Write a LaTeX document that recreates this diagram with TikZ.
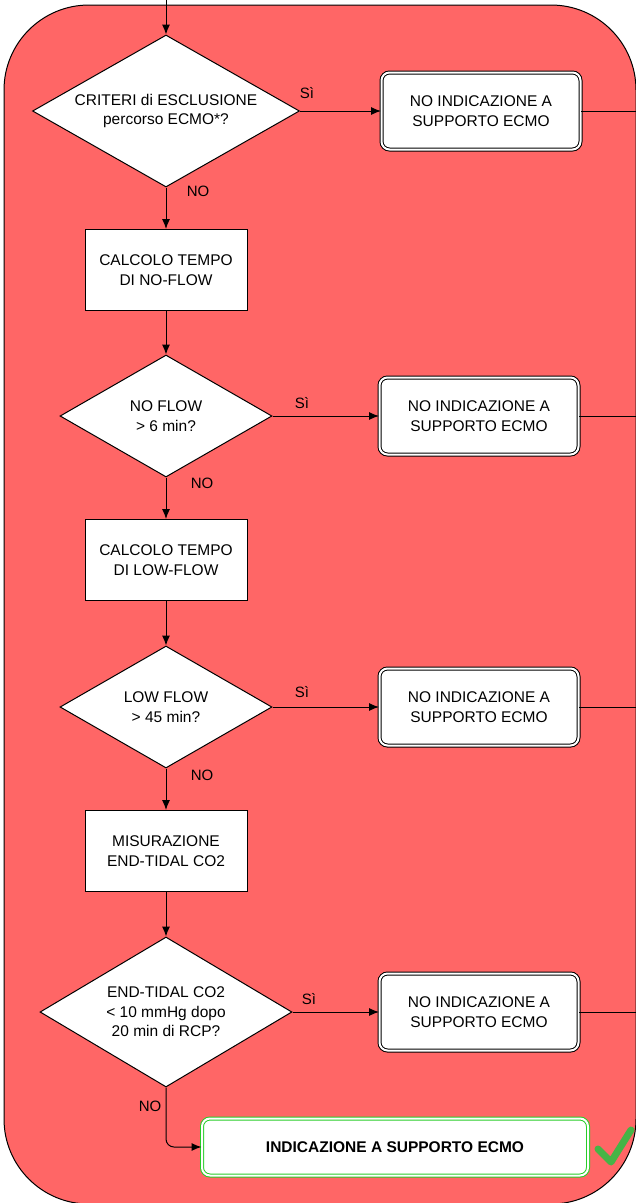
\documentclass[tikz,border=0pt]{standalone}
\usepackage{fontspec}
\setmainfont{Liberation Sans}
\usetikzlibrary{shapes.geometric,arrows.meta,positioning}

\definecolor{panelred}{RGB}{255,102,102}
\definecolor{okgreen}{RGB}{40,205,40}
\definecolor{tickgreen}{RGB}{70,180,70}

\tikzset{
  decision/.style={diamond, draw, fill=white, aspect=1.75, inner sep=0pt, align=center},
  process/.style={rectangle, draw, fill=white, minimum width=162pt, minimum height=81pt, align=center},
  outcome/.style={rectangle, rounded corners=8pt, draw, double=white, double distance=2pt,
    fill=white, minimum width=199pt, minimum height=77pt, align=center},
  flow/.style={-{Latex[length=10pt,width=8pt]}},
  lbl/.style={font=\fontsize{15}{17}\selectfont}
}

\begin{document}
\begin{tikzpicture}[x=1pt, y=-1pt, line width=1pt, font=\fontsize{15.5}{19.5}\selectfont]
			\useasboundingbox (0,0) rectangle (635,1203);
			% Background panel
			\draw[fill=panelred, rounded corners=85pt] (4,5) rectangle (636,1204);
			
			% First check: exclusion criteria
			\coordinate (entry) at (166,-2);
			\node[decision, minimum width=267pt, minimum height=152pt] (crit) at (166,111)
			{CRITERI di ESCLUSIONE\\percorso ECMO*?};
			\node[outcome] (stop1) at (481,111) {NO INDICAZIONE A\\SUPPORTO ECMO};
			\coordinate (out1) at (637,111);
			\draw[flow] (entry) -- (crit.north);
			\draw[flow] (crit.east) -- (stop1.west);
			\draw (stop1.east) -- (out1);
			\node[lbl] at (307,93) {Sì};
			\node[lbl] at (198,191) {NO};
			
			% No-flow time
			\node[process] (noflowcalc) at (166,270) {CALCOLO TEMPO\\DI NO-FLOW};
			\node[decision, minimum width=212pt, minimum height=122pt] (noflow) at (166,416)
			{NO FLOW\\> 6 min?};
			\node[outcome] (stop2) at (479,416) {NO INDICAZIONE A\\SUPPORTO ECMO};
			\coordinate (out2) at (637,416);
			\draw[flow] (crit.south) -- (noflowcalc.north);
			\draw[flow] (noflowcalc.south) -- (noflow.north);
			\draw[flow] (noflow.east) -- (stop2.west);
			\draw (stop2.east) -- (out2);
			\node[lbl] at (302,403) {Sì};
			\node[lbl] at (202,483) {NO};
			
			% Low-flow time
			\node[process] (lowflowcalc) at (166,560) {CALCOLO TEMPO\\DI LOW-FLOW};
			\node[decision, minimum width=212pt, minimum height=122pt] (lowflow) at (166,707)
			{LOW FLOW\\> 45 min?};
			\node[outcome] (stop3) at (479,707) {NO INDICAZIONE A\\SUPPORTO ECMO};
			\coordinate (out3) at (637,707);
			\draw[flow] (noflow.south) -- (lowflowcalc.north);
			\draw[flow] (lowflowcalc.south) -- (lowflow.north);
			\draw[flow] (lowflow.east) -- (stop3.west);
			\draw (stop3.east) -- (out3);
			\node[lbl] at (302,692) {Sì};
			\node[lbl] at (202,775) {NO};
			
			% End-tidal CO2
			\node[process] (etco2calc) at (166,851) {MISURAZIONE\\END-TIDAL CO2};
			\node[decision, minimum width=252pt, minimum height=150pt, aspect=1.68] (etco2) at (166,1012)
			{END-TIDAL CO2\\< 10 mmHg dopo\\20 min di RCP?};
			\node[outcome] (stop4) at (479,1012) {NO INDICAZIONE A\\SUPPORTO ECMO};
			\coordinate (out4) at (637,1012);
			\draw[flow] (lowflow.south) -- (etco2calc.north);
			\draw[flow] (etco2calc.south) -- (etco2.north);
			\draw[flow] (etco2.east) -- (stop4.west);
			\draw (stop4.east) -- (out4);
			\node[lbl] at (309,999) {Sì};
			\node[lbl] at (150,1106) {NO};
			
			% Final outcome
			\node[outcome, draw=okgreen, minimum width=386pt, minimum height=57pt,
			font=\fontsize{15.5}{19.5}\selectfont\bfseries] (go) at (395,1147)
			{INDICAZIONE A SUPPORTO ECMO};
			\draw[flow, rounded corners=8pt] (etco2.south) |- (go.west);
			\draw[tickgreen, line width=7pt, line cap=round, line join=round]
			(598,1149) -- (611,1162) -- (631,1130);
		\end{tikzpicture}
\end{document}
